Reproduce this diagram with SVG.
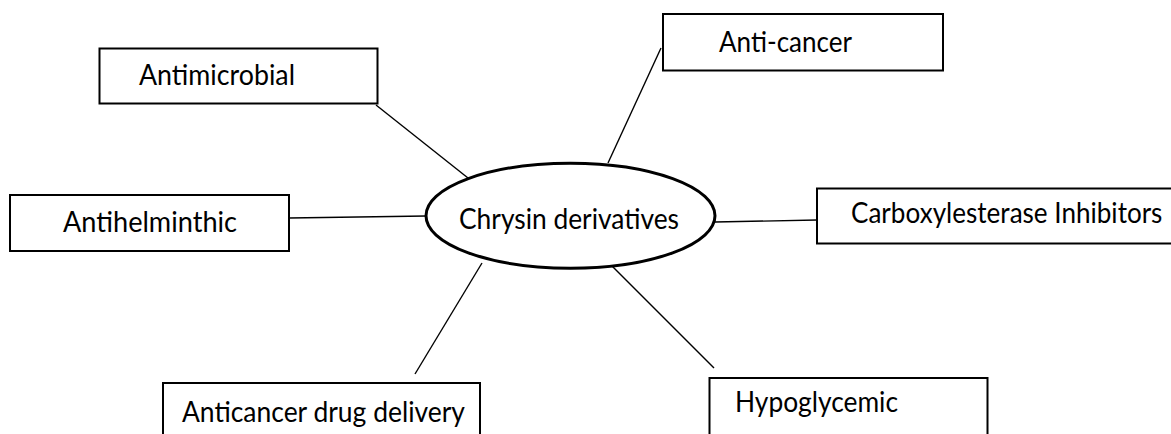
<svg xmlns="http://www.w3.org/2000/svg" width="1171" height="434" viewBox="0 0 1171 434">
  <style>
    .box { fill: #ffffff; stroke: #000000; stroke-width: 2; }
    .hub { fill: #ffffff; stroke: #000000; stroke-width: 3; }
    .lbl { font-family: Lato, "Open Sans", "Liberation Sans", sans-serif; font-size: 28px; fill: #000000; }
    .conn line { stroke: #000000; stroke-width: 1.4; }
  </style>
  <rect width="1171" height="434" fill="#ffffff"/>
  <g id="connectors" class="conn">
    <line x1="376" y1="105" x2="468" y2="178"/>
    <line x1="661" y1="48" x2="608" y2="163"/>
    <line x1="289" y1="218" x2="426" y2="216"/>
    <line x1="715" y1="222" x2="817" y2="220"/>
    <line x1="482" y1="263" x2="415" y2="374"/>
    <line x1="609" y1="263" x2="714" y2="368"/>
  </g>
  <g id="node-chrysin">
    <ellipse class="hub" cx="570.5" cy="215.7" rx="144.5" ry="52.5"/>
    <text class="lbl" x="459" y="229" font-size="29" textLength="220" lengthAdjust="spacingAndGlyphs">Chrysin derivatives</text>
  </g>
  <g id="node-antimicrobial">
    <rect class="box" x="99.5" y="48.5" width="278" height="55"/>
    <text class="lbl" x="139" y="85" textLength="156" lengthAdjust="spacingAndGlyphs">Antimicrobial</text>
  </g>
  <g id="node-anticancer">
    <rect class="box" x="663" y="14" width="280" height="56.5"/>
    <text class="lbl" x="719" y="52.3" textLength="133" lengthAdjust="spacingAndGlyphs">Anti-cancer</text>
  </g>
  <g id="node-antihelminthic">
    <rect class="box" x="10" y="195" width="279" height="56"/>
    <text class="lbl" x="63" y="231.7" textLength="174" lengthAdjust="spacingAndGlyphs">Antihelminthic</text>
  </g>
  <g id="node-carboxylesterase">
    <path class="box" d="M1171 188.5 H817 V243.5 H1171"/>
    <text class="lbl" transform="translate(851 223.3) scale(0.9 1)" x="0" y="0" textLength="346" lengthAdjust="spacingAndGlyphs">Carboxylesterase Inhibitors</text>
  </g>
  <g id="node-drug-delivery">
    <rect class="box" x="163" y="383" width="317" height="80"/>
    <text class="lbl" x="182" y="421.7" textLength="283" lengthAdjust="spacingAndGlyphs">Anticancer drug delivery</text>
  </g>
  <g id="node-hypoglycemic">
    <rect class="box" x="709.5" y="378" width="278" height="80"/>
    <text class="lbl" x="735" y="411.7" textLength="163" lengthAdjust="spacingAndGlyphs">Hypoglycemic</text>
  </g>
</svg>
